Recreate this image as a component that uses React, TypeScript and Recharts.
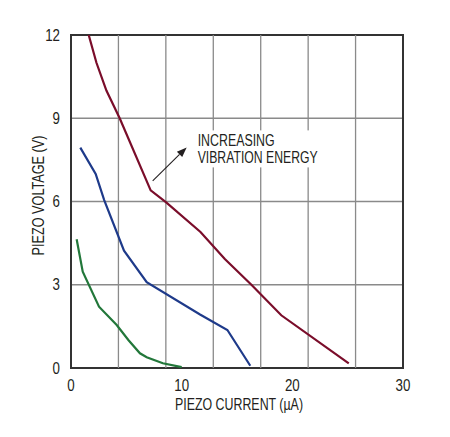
import React from 'react';
import {
  LineChart,
  Line,
  XAxis,
  YAxis,
  CartesianGrid,
  ReferenceLine,
  ReferenceArea,
  Label,
} from 'recharts';

// Axis ticks
const xTicks = [0, 10, 20, 30];
const yTicks = [0, 3, 6, 9, 12];
// Vertical grid divisions (7 equal divisions of 0..30)
const xGridLines = [4.2857, 8.5714, 12.857, 17.143, 21.429, 25.714];

// Highest vibration energy (dark red)
const highCurrent = [1.6, 2.3, 3.2, 4.4, 7.2, 8.6, 11.7, 13.9, 16.3, 19.0, 25.1];
const highVoltage = [12, 11.0, 10.0, 9.0, 6.4, 5.97, 4.9, 3.93, 3.0, 1.9, 0.17];

// Medium vibration energy (blue)
const midCurrent = [0.84, 2.23, 3.0, 4.79, 6.84, 11.66, 14.13, 16.2];
const midVoltage = [7.94, 6.99, 6.05, 4.23, 3.09, 1.93, 1.37, 0.08];

// Lowest vibration energy (green)
const lowCurrent = [0.51, 1.06, 2.53, 4.13, 5.2, 6.23, 6.84, 8.3, 10.0];
const lowVoltage = [4.64, 3.47, 2.21, 1.55, 1.0, 0.53, 0.39, 0.17, 0.03];

// Annotation arrow (data coordinates)
const arrowFrom = { x: 7.38, y: 6.74 };
const arrowTo = { x: 10.45, y: 7.95 };
const annotationLines = ['INCREASING', 'VIBRATION ENERGY'];

const toPoints = (xs: number[], ys: number[]) => xs.map((x, i) => ({ x, y: ys[i] }));

const highData = toPoints(highCurrent, highVoltage);
const midData = toPoints(midCurrent, midVoltage);
const lowData = toPoints(lowCurrent, lowVoltage);

const FONT = "'Liberation Sans Narrow', 'Arial Narrow', 'Liberation Sans', Arial, sans-serif";
const TEXT = '#231f20';
const GRID = '#8a8a8a';

const ArrowShape = (props: any) => {
  const { x1, y1, x2, y2 } = props;
  const ang = Math.atan2(y2 - y1, x2 - x1);
  const len = 10;
  const w = 3.8;
  const bx = x2 - len * Math.cos(ang);
  const by = y2 - len * Math.sin(ang);
  const px = -Math.sin(ang) * w;
  const py = Math.cos(ang) * w;
  return (
    <g>
      <line x1={x1} y1={y1} x2={bx} y2={by} stroke={TEXT} strokeWidth={1.1} />
      <polygon
        points={`${x2},${y2} ${bx + px},${by + py} ${bx - px},${by - py}`}
        fill={TEXT}
      />
      <rect x={x2 + 9} y={y2 - 17} width={128} height={37} fill="#ffffff" />
      <text
        x={x2 + 11}
        y={y2 - 1}
        fontFamily={FONT}
        fontSize={16}
        fill={TEXT}
        textLength={77}
        lengthAdjust="spacingAndGlyphs"
      >
        {annotationLines[0]}
      </text>
      <text
        x={x2 + 11}
        y={y2 + 16}
        fontFamily={FONT}
        fontSize={16}
        fill={TEXT}
        textLength={120}
        lengthAdjust="spacingAndGlyphs"
      >
        {annotationLines[1]}
      </text>
    </g>
  );
};

const XLabel = (props: any) => {
  const vb = props.viewBox || {};
  return (
    <text
      x={vb.x + vb.width / 2 + 2}
      y={vb.y + 42}
      textAnchor="middle"
      fontFamily={FONT}
      fontSize={16}
      fill={TEXT}
      textLength={128}
      lengthAdjust="spacingAndGlyphs"
    >
      PIEZO CURRENT (µA)
    </text>
  );
};

const YLabel = (props: any) => {
  const vb = props.viewBox || {};
  const cx = vb.x + 44;
  const cy = vb.y + vb.height / 2 - 6;
  return (
    <text
      x={cx}
      y={cy}
      transform={`rotate(-90, ${cx}, ${cy})`}
      textAnchor="middle"
      fontFamily={FONT}
      fontSize={16}
      fill={TEXT}
      textLength={120}
      lengthAdjust="spacingAndGlyphs"
    >
      PIEZO VOLTAGE (V)
    </text>
  );
};

const XTick = (props: any) => {
  const { x, y, payload } = props;
  const s = String(payload.value);
  return (
    <text
      x={x}
      y={y + 10}
      dy="0.71em"
      textAnchor="middle"
      fontFamily={FONT}
      fontSize={16}
      fill={TEXT}
      textLength={s.length * 7.4}
      lengthAdjust="spacingAndGlyphs"
    >
      {s}
    </text>
  );
};

const YTick = (props: any) => {
  const { x, y, payload } = props;
  const s = String(payload.value);
  return (
    <text
      x={x - 9}
      y={y}
      dy="0.355em"
      textAnchor="end"
      fontFamily={FONT}
      fontSize={16}
      fill={TEXT}
      textLength={s.length * 7.4}
      lengthAdjust="spacingAndGlyphs"
    >
      {s}
    </text>
  );
};

export default function App() {
  return (
    <div style={{ position: 'absolute', left: 0, top: 0, background: '#fff' }}>
      <LineChart
        width={450}
        height={437}
        margin={{ top: 35, right: 47, left: 0, bottom: 0 }}
        style={{ fontFamily: FONT }}
      >
        <XAxis
          type="number"
          dataKey="x"
          domain={[0, 30]}
          ticks={xTicks}
          tick={<XTick />}
          tickLine={false}
          tickSize={0}
          axisLine={false}
          height={69}
          interval={0}
          allowDataOverflow
        >
          <Label content={<XLabel />} />
        </XAxis>
        <YAxis
          type="number"
          domain={[0, 12]}
          ticks={yTicks}
          tick={<YTick />}
          tickLine={false}
          tickSize={0}
          axisLine={false}
          width={71}
          interval={0}
          allowDataOverflow
        >
          <Label content={<YLabel />} />
        </YAxis>
        <CartesianGrid vertical={false} stroke={GRID} strokeWidth={1.3} />
        {xGridLines.map((v) => (
          <ReferenceLine key={v} x={v} stroke={GRID} strokeWidth={1.3} />
        ))}
        <ReferenceLine
          segment={[arrowFrom, arrowTo]}
          shape={<ArrowShape />}
          ifOverflow="visible"
        />
        <Line
          data={lowData}
          dataKey="y"
          type="linear"
          stroke="#22773a"
          strokeWidth={2.2}
          dot={false}
          isAnimationActive={false}
        />
        <Line
          data={midData}
          dataKey="y"
          type="linear"
          stroke="#1e3a8a"
          strokeWidth={2.2}
          dot={false}
          isAnimationActive={false}
        />
        <Line
          data={highData}
          dataKey="y"
          type="linear"
          stroke="#7a0d2a"
          strokeWidth={2.2}
          dot={false}
          isAnimationActive={false}
        />
        <ReferenceArea
          x1={0}
          x2={30}
          y1={0}
          y2={12}
          fill="none"
          fillOpacity={0}
          stroke="#333333"
          strokeWidth={2}
        />
      </LineChart>
    </div>
  );
}
